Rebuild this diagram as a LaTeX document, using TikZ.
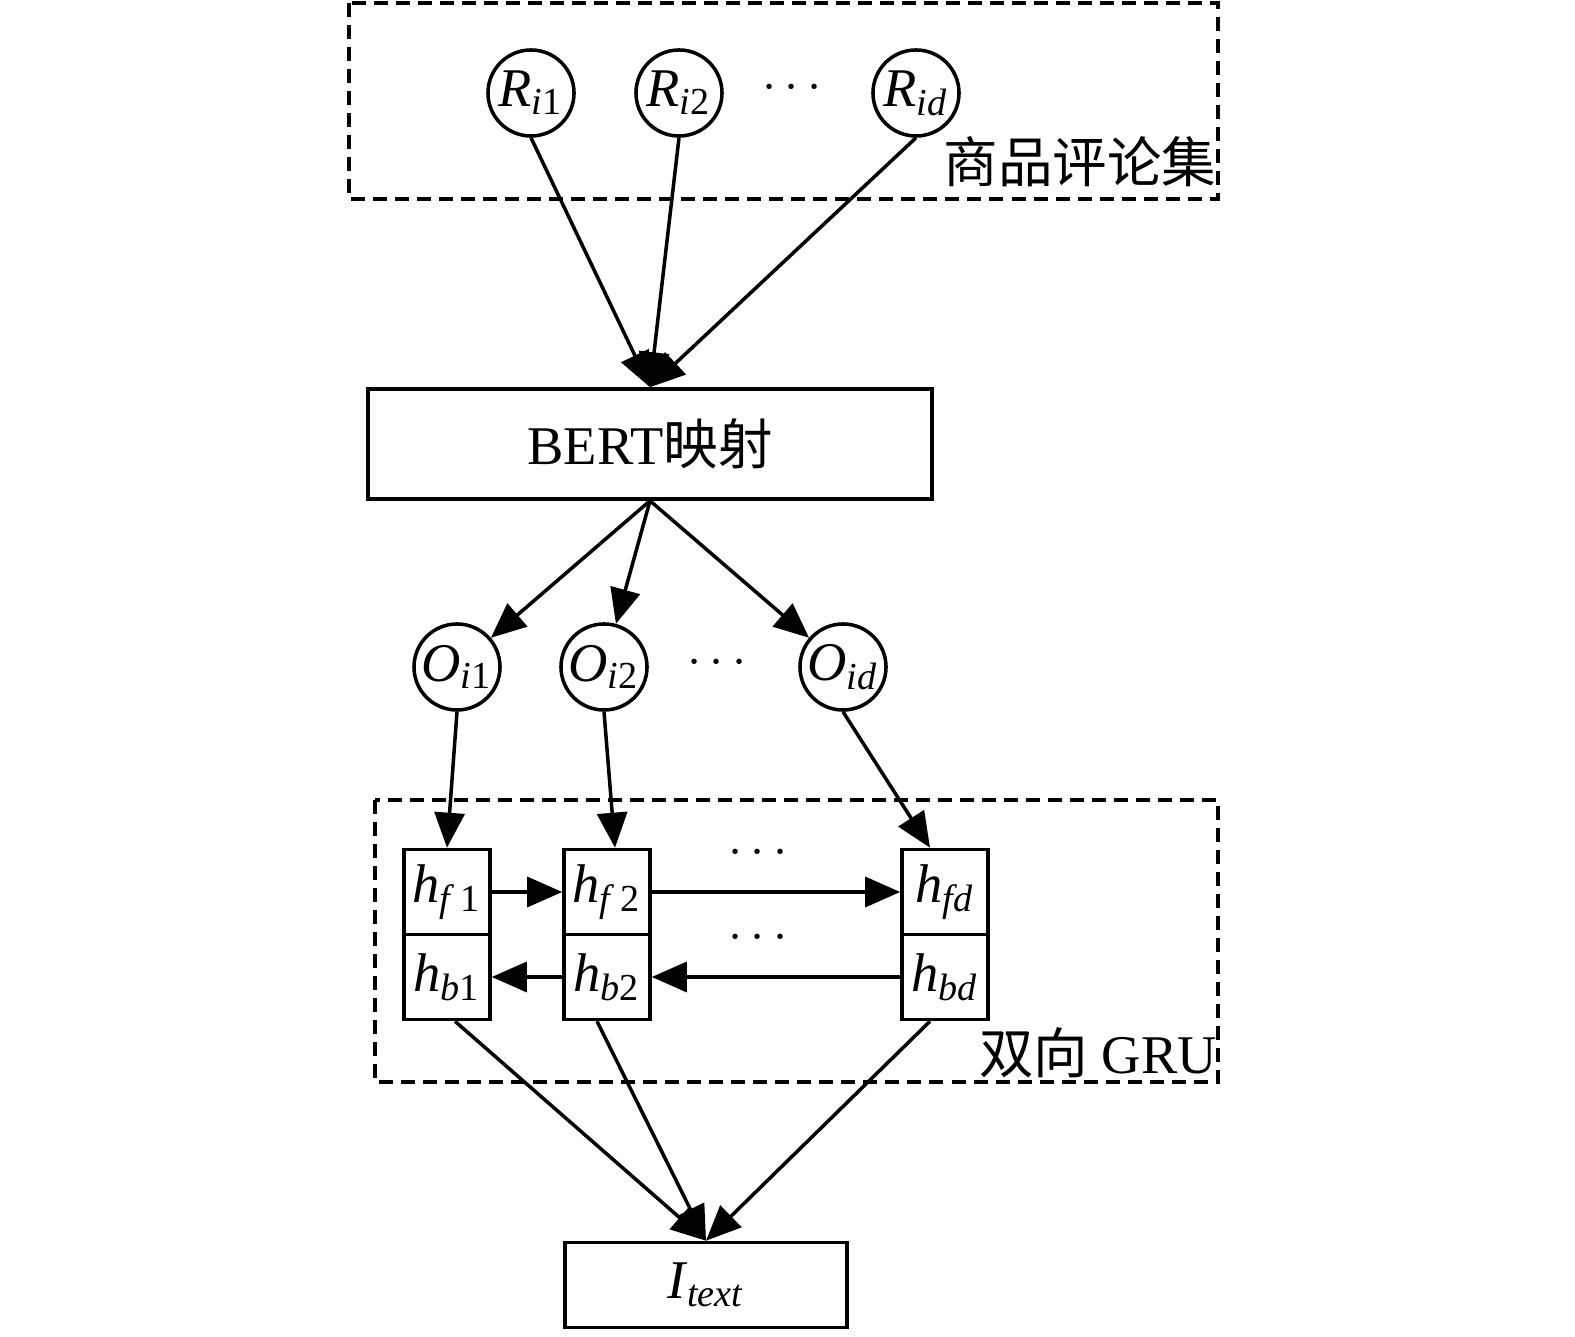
\documentclass[tikz,border=0pt]{standalone}
\usepackage{fontspec}
\setmainfont{Liberation Serif}
\newfontfamily\cjk{Noto Sans CJK SC}
\usetikzlibrary{positioning,arrows.meta,calc}
\tikzset{
  fig/.style={font=\fontsize{15.5}{18}\selectfont,line width=1pt},
  ln/.style={-{Triangle[length=3.5mm,width=3mm]},line width=1pt},
  dbox/.style={draw,line width=1pt,dash pattern=on 1.4mm off 0.8mm},
  lbl/.style={inner sep=0pt},
}
\newcommand{\vsub}[2]{\textit{#1}\textsubscript{#2}}

\begin{document}
\begin{tikzpicture}[fig,x=0.01cm,y=-0.01cm,
  cir/.style={draw,line width=1pt,circle,minimum size=8.6mm,inner sep=0pt},
  cell/.style={draw,line width=1pt,minimum width=8.6mm,minimum height=8.5mm,inner sep=0pt},
  res/.style={draw,line width=1pt,inner sep=0pt}]
\useasboundingbox (0,0) rectangle (1575,1337);

% Review set
\draw[dbox] (349,3) rectangle (1218,199);
\node[cir] (r1) at (531,93) {\vsub{R}{\textit{i}1}};
\node[cir] (r2) at (679,93) {\vsub{R}{\textit{i}2}};
\node[lbl] (rdots) at (792,88) {$\cdots$};
\node[cir] (rd) at (916,93) {\vsub{R}{\textit{id}}};
\node[lbl] (rset) at (1080,162) {\cjk 商品评论集};

% BERT
\node[res,minimum width=5.64cm,minimum height=1.1cm] (bert) at (650,444) {BERT{\cjk 映射}};
\draw[ln] (r1.south) -- (bert.north);
\draw[ln] (r2.south) -- (bert.north);
\draw[ln] (rd.south) -- (bert.north);

% Outputs
\node[cir] (o1) at (457,667) {\vsub{O}{\textit{i}1}};
\node[cir] (o2) at (604,667) {\vsub{O}{\textit{i}2}};
\node[lbl] (odots) at (717,663) {$\cdots$};
\node[cir] (od) at (843,667) {\vsub{O}{\textit{id}}};
\draw[ln] (bert.south) -- (o1);
\draw[ln] (bert.south) -- (o2);
\draw[ln] (bert.south) -- (od);

% Bidirectional GRU
\draw[dbox] (375,800) rectangle (1218,1082);
\node[lbl] (gru) at (1098,1053) {{\cjk 双向} GRU};
\node[cell] (hf1) at (447,892) {\vsub{h}{\textit{f}\,1}};
\node[cell] (hb1) at (447,977) {\vsub{h}{\textit{b}1}};
\node[cell] (hf2) at (607,892) {\vsub{h}{\textit{f}\,2}};
\node[cell] (hb2) at (607,977) {\vsub{h}{\textit{b}2}};
\node[cell] (hfd) at (945,892) {\vsub{h}{\textit{fd}}};
\node[cell] (hbd) at (945,977) {\vsub{h}{\textit{bd}}};
\node[lbl] (fdots) at (758,853) {$\cdots$};
\node[lbl] (bdots) at (758,938) {$\cdots$};
\draw[ln] (o1.south) -- (hf1.north);
\draw[ln] (o2.south) -- ($(hf2.north)+(8,0)$);
\draw[ln] (od.south) -- ($(hfd.north)-(15,0)$);
\draw[ln] (hf1) -- (hf2);
\draw[ln] (hf2) -- (hfd);
\draw[ln] (hbd) -- (hb2);
\draw[ln] (hb2) -- (hb1);

% Text feature
\node[res,minimum width=2.82cm,minimum height=0.85cm] (itext) at (706,1285) {\vsub{I}{\textit{text}}};
\draw[ln] ($(hb1.south)+(8,0)$) -- (itext.north);
\draw[ln] ($(hb2.south)-(10,0)$) -- (itext.north);
\draw[ln] ($(hbd.south)-(15,0)$) -- (itext.north);

\end{tikzpicture}
\end{document}
